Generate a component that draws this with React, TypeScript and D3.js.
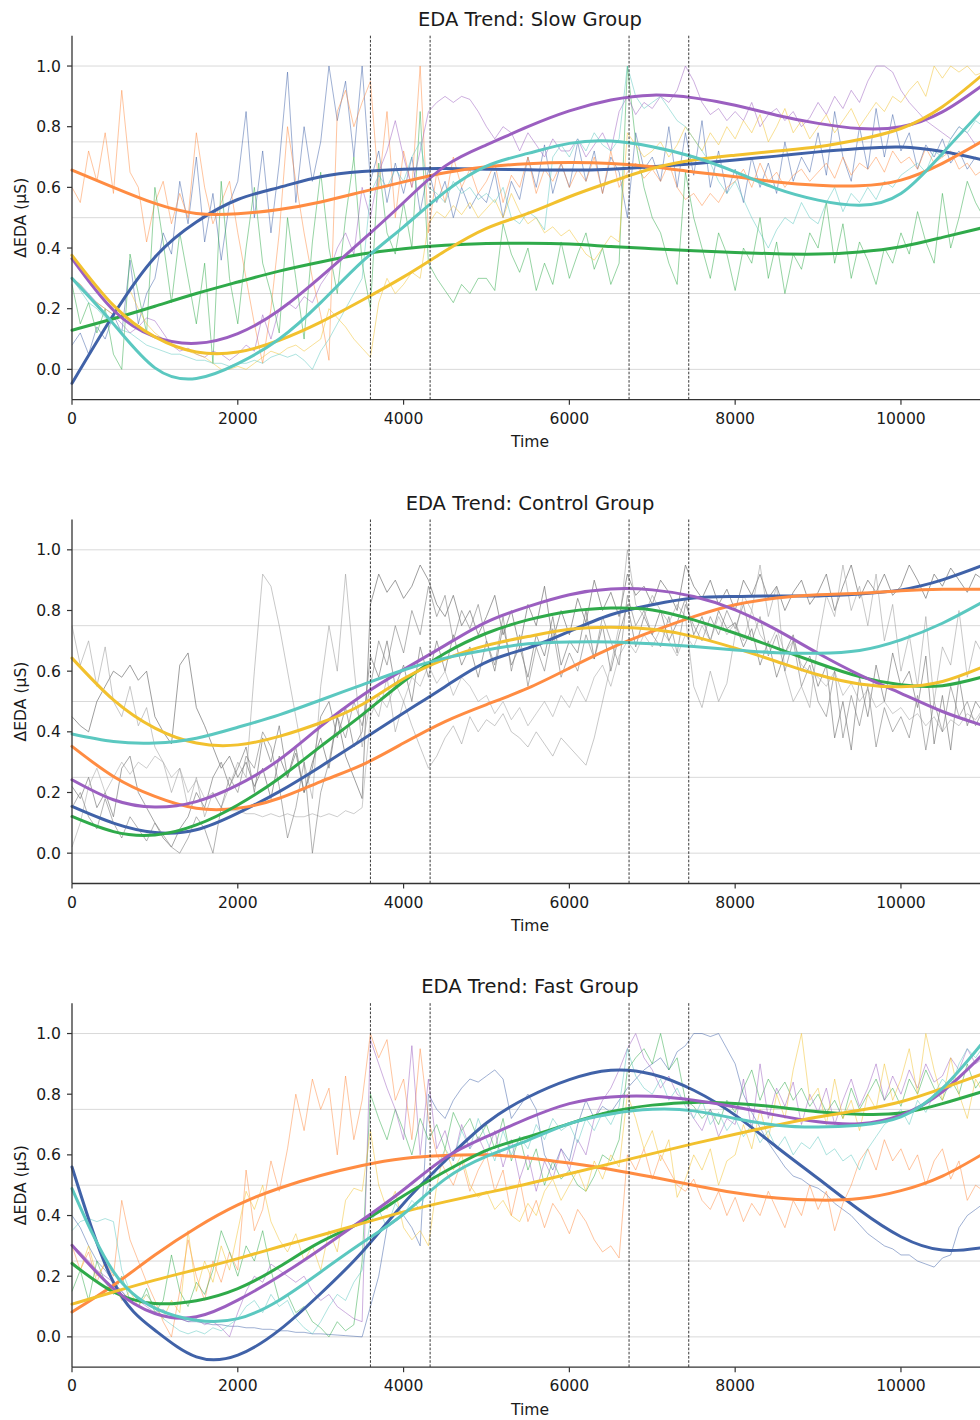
import React from 'react';
import * as d3 from 'd3';

// ---------- layout ----------
const WIDTH = 980;
const HEIGHT = 1420;
const AX_LEFT = 72;
const AX_RIGHT = 988;
const PANEL_H = 364;
const PANEL_TOPS = [35.7, 519.5, 1003.2];
const FONT = '"DejaVu Sans", Verdana, sans-serif';

// ---------- shared axes values ----------
const TIME_MAX = 11050;
const rawTimes = d3.range(0, 11001, 100);
const trendTimes = d3.range(0, 11001, 500);
const phaseMarks = [3600, 4320, 6720, 7440];
const xTicks = [0, 2000, 4000, 6000, 8000, 10000];
const yTicks = [0, 0.2, 0.4, 0.6, 0.8, 1.0];
const gridLevels = [0, 0.25, 0.5, 0.75, 1.0];
const subjectColors = ['#4062A8', '#FF8C42', '#2FAA4A', '#9B5FC0', '#F2C12E', '#5BC8C0'];
const controlGrays = ['#6a6a6a', '#767676', '#9a9a9a', '#a4a4a4', '#808080'];
const controlOpacity = [0.65, 0.65, 0.55, 0.55, 0.6];

// ---------- Slow group: per-subject normalised EDA (100-unit samples) ----------
const slowRawBlue = [
  0.08, 0.12, 0.05, 0.14, 0.1, 0.18, 0.12, 0.36, 0.15, 0.25,
  0.3, 0.45, 0.38, 0.62, 0.48, 0.7, 0.42, 0.58, 0.36, 0.55,
  0.62, 0.85, 0.5, 0.72, 0.45, 0.68, 0.98, 0.55, 0.8, 0.62,
  0.75, 1.0, 0.82, 0.95, 0.7, 1.0, 0.62, 0.72, 0.55, 0.68,
  0.58, 0.7, 0.52, 0.66, 0.55, 0.62, 0.5, 0.6, 0.53, 0.58,
  0.55, 0.65, 0.5, 0.62, 0.56, 0.7, 0.6, 0.74, 0.58, 0.68,
  0.6, 0.75, 0.62, 0.72, 0.58, 0.7, 0.65, 0.5, 0.78, 0.66,
  0.7, 0.62, 0.8, 0.6, 0.78, 0.64, 0.82, 0.6, 0.72, 0.58,
  0.66, 0.55, 0.7, 0.6, 0.68, 0.58, 0.75, 0.62, 0.7, 0.65,
  0.78, 0.64, 0.85, 0.7, 0.62, 0.8, 0.66, 0.86, 0.7, 0.84,
  0.72, 0.78, 0.66, 0.74, 0.7, 0.76, 0.68, 0.72, 0.66, 0.7, 0.68,
];
const slowRawOrange = [
  0.6, 0.55, 0.72, 0.62, 0.78, 0.58, 0.92, 0.65, 0.6, 0.42,
  0.55, 0.62, 0.48, 0.58, 0.5, 0.78, 0.6, 0.48, 0.55, 0.62,
  0.45, 0.3, 0.15, 0.02, 0.2, 0.45, 0.8, 0.62, 0.45, 0.3,
  0.18, 0.03, 0.85, 0.92, 0.8, 0.88, 0.95, 0.6, 0.85, 0.5,
  0.72, 0.6, 1.0, 0.45, 0.65, 0.55, 0.7, 0.6, 0.66, 0.58,
  0.62, 0.68, 0.55, 0.64, 0.6, 0.7, 0.58, 0.66, 0.62, 0.68,
  0.6, 0.66, 0.62, 0.7, 0.58, 0.72, 0.6, 0.65, 0.68, 0.63,
  0.66, 0.62, 0.68, 0.6, 0.56, 0.58, 0.54, 0.58, 0.55, 0.6,
  0.62, 0.66, 0.6, 0.68, 0.62, 0.65, 0.6, 0.64, 0.66, 0.62,
  0.65, 0.68, 0.63, 0.7, 0.64, 0.68, 0.66, 0.7, 0.65, 0.72,
  0.68, 0.7, 0.66, 0.73, 0.68, 0.7, 0.72, 0.66, 0.68, 0.64, 0.66,
];
const slowRawGreen = [
  0.28, 0.15, 0.22, 0.12, 0.2, 0.05, 0.0, 0.38, 0.25, 0.12,
  0.6, 0.42, 0.22, 0.45, 0.3, 0.15, 0.35, 0.02, 0.62, 0.3,
  0.15, 0.4, 0.6, 0.35, 0.25, 0.12, 0.5, 0.3, 0.1, 0.42,
  0.65, 0.4, 0.25, 0.5, 0.7, 0.35, 0.2, 0.68, 0.45, 0.38,
  0.55, 0.4, 0.85, 0.35, 0.3, 0.26, 0.22, 0.28, 0.25, 0.3,
  0.3, 0.26, 0.48, 0.38, 0.32, 0.4, 0.26, 0.35, 0.28, 0.42,
  0.3, 0.38, 0.45, 0.33, 0.4, 0.28, 0.35, 1.0, 0.75, 0.6,
  0.5, 0.45, 0.35, 0.28, 0.65, 0.5, 0.4, 0.3, 0.45, 0.38,
  0.26, 0.4, 0.35, 0.5, 0.3, 0.42, 0.25, 0.38, 0.33, 0.45,
  0.4, 0.55, 0.35, 0.48, 0.3, 0.42, 0.36, 0.28, 0.4, 0.35,
  0.45, 0.38, 0.52, 0.42, 0.35, 0.58, 0.4, 0.5, 0.62, 0.55, 0.5,
];
const slowRawPurple = [
  0.3, 0.28, 0.25, 0.22, 0.2, 0.18, 0.15, 0.12, 0.14, 0.17,
  0.16, 0.12, 0.08, 0.06, 0.07, 0.05, 0.04, 0.06, 0.05, 0.03,
  0.05, 0.08, 0.06, 0.18, 0.1, 0.2, 0.22, 0.2, 0.24, 0.22,
  0.28, 0.32, 0.4, 0.45, 0.38, 0.6, 0.5, 0.65, 0.72, 0.82,
  0.7, 0.6, 0.72, 0.85, 0.88, 0.9, 0.88, 0.9, 0.89, 0.85,
  0.8, 0.76, 0.8, 0.78, 0.72, 0.78, 0.74, 0.7, 0.76, 0.72,
  0.72, 0.76, 0.7, 0.74, 0.78, 0.72, 0.85, 0.9, 0.84, 0.88,
  0.86, 0.9, 0.88, 0.92, 1.0, 0.95, 0.88, 0.84, 0.86, 0.82,
  0.85, 0.82, 0.88, 0.8, 0.84, 0.86, 0.82, 0.85, 0.8, 0.83,
  0.88, 0.84, 0.9, 0.86, 0.92, 0.88, 0.95, 1.0, 1.0, 0.98,
  0.92, 0.88, 0.85, 0.82, 0.8, 0.78, 0.76, 0.8, 0.78, 0.74, 0.76,
];
const slowRawYellow = [
  0.3, 0.28, 0.24, 0.22, 0.2, 0.18, 0.22, 0.26, 0.2, 0.15,
  0.12, 0.1, 0.08, 0.07, 0.06, 0.05, 0.04, 0.02, 0.0, 0.0,
  0.01, 0.0, 0.02, 0.04, 0.06, 0.05, 0.07, 0.08, 0.06, 0.08,
  0.1, 0.2, 0.17, 0.14, 0.1, 0.07, 0.04, 0.22, 0.3, 0.25,
  0.28, 0.32, 0.3, 0.48, 0.52, 0.5, 0.54, 0.51, 0.55, 0.5,
  0.53, 0.56, 0.5, 0.58, 0.52, 0.48, 0.5, 0.45, 0.47, 0.44,
  0.46, 0.42, 0.38, 0.36, 0.4, 0.44, 0.42, 0.78, 0.74, 0.7,
  0.72, 0.75, 0.7, 0.74, 0.8, 0.76, 0.72, 0.78, 0.74, 0.8,
  0.76, 0.82, 0.78, 0.84, 0.75, 0.8, 0.86, 0.78, 0.82, 0.76,
  0.8, 0.84, 0.78, 0.82, 0.86, 0.8, 0.84, 0.88, 0.85, 0.9,
  0.88, 0.92, 0.95, 0.9, 1.0, 0.96, 1.0, 0.98, 1.0, 0.97, 0.98,
];
const slowRawTeal = [
  0.3, 0.26, 0.22, 0.2, 0.17, 0.15, 0.13, 0.12, 0.1, 0.08,
  0.07, 0.06, 0.05, 0.05, 0.04, 0.03, 0.03, 0.02, 0.02, 0.01,
  0.02, 0.02, 0.03, 0.02, 0.04, 0.05, 0.04, 0.05, 0.03, 0.0,
  0.06, 0.1, 0.15, 0.2, 0.25, 0.3, 0.58, 0.64, 0.6, 0.66,
  0.62, 0.7, 0.75, 0.6, 0.58, 0.55, 0.62, 0.58, 0.6, 0.56,
  0.58, 0.55, 0.6, 0.5, 0.48, 0.52, 0.5, 0.46, 0.7, 0.74,
  0.7, 0.76, 0.72, 0.78, 0.74, 0.72, 0.76, 1.0, 0.9, 0.86,
  0.88, 0.9, 0.86, 0.82, 0.8, 0.76, 0.72, 0.68, 0.62, 0.58,
  0.62, 0.56, 0.5, 0.45, 0.4, 0.46, 0.5, 0.48, 0.55, 0.5,
  0.48, 0.55, 0.6, 0.52, 0.58, 0.55, 0.6, 0.56, 0.62, 0.6,
  0.64, 0.66, 0.68, 0.65, 0.72, 0.7, 0.76, 0.8, 0.78, 0.82, 0.8,
];

// ---------- Slow group: fitted trends (500-unit samples) ----------
const slowTrendBlue = [-0.046, 0.18, 0.37, 0.486, 0.56, 0.6, 0.635, 0.652, 0.66, 0.662, 0.66, 0.658, 0.657, 0.66, 0.668, 0.678, 0.69, 0.703, 0.717, 0.728, 0.733, 0.718, 0.69];
const slowTrendOrange = [0.657, 0.6, 0.547, 0.514, 0.513, 0.527, 0.552, 0.585, 0.618, 0.648, 0.668, 0.678, 0.682, 0.679, 0.668, 0.651, 0.635, 0.618, 0.607, 0.605, 0.624, 0.679, 0.755];
const slowTrendGreen = [0.129, 0.167, 0.208, 0.25, 0.288, 0.324, 0.354, 0.38, 0.398, 0.409, 0.415, 0.416, 0.413, 0.405, 0.398, 0.391, 0.385, 0.381, 0.38, 0.387, 0.404, 0.435, 0.468];
const slowTrendPurple = [0.365, 0.195, 0.107, 0.086, 0.118, 0.195, 0.305, 0.425, 0.55, 0.67, 0.74, 0.8, 0.852, 0.888, 0.904, 0.895, 0.871, 0.838, 0.811, 0.794, 0.8, 0.849, 0.94];
const slowTrendYellow = [0.376, 0.211, 0.107, 0.057, 0.057, 0.096, 0.156, 0.228, 0.305, 0.39, 0.465, 0.514, 0.569, 0.618, 0.662, 0.69, 0.706, 0.72, 0.734, 0.758, 0.794, 0.866, 0.975];
const slowTrendTeal = [0.3, 0.15, 0.005, -0.03, 0.019, 0.1, 0.22, 0.355, 0.47, 0.585, 0.67, 0.712, 0.745, 0.753, 0.734, 0.7, 0.651, 0.596, 0.558, 0.541, 0.58, 0.712, 0.86];

// ---------- Control group: per-subject normalised EDA ----------
const controlRawA = [
  0.45, 0.42, 0.4, 0.5, 0.55, 0.6, 0.58, 0.62, 0.57, 0.6,
  0.45, 0.4, 0.36, 0.62, 0.66, 0.48, 0.42, 0.35, 0.28, 0.32,
  0.25, 0.3, 0.22, 0.28, 0.18, 0.32, 0.25, 0.35, 0.2, 0.3,
  0.38, 0.28, 0.45, 0.32, 0.25, 0.18, 0.82, 0.92, 0.86, 0.9,
  0.84, 0.88, 0.95, 0.9, 0.82, 0.78, 0.85, 0.75, 0.8, 0.72,
  0.78, 0.85, 0.72, 0.8, 0.68, 0.82, 0.75, 0.88, 0.7, 0.8,
  0.72, 0.84, 0.76, 0.9, 0.8, 0.86, 0.78, 0.92, 0.85, 0.88,
  0.82, 0.9, 0.86, 0.8, 0.95, 0.88, 0.84, 0.9, 0.82, 0.87,
  0.8, 0.9, 0.85, 0.92, 0.84, 0.88, 0.8, 0.86, 0.9, 0.82,
  0.86, 0.92, 0.8, 0.88, 0.95, 0.84, 0.9, 0.86, 0.92, 0.85,
  0.88, 0.95, 0.9, 0.84, 0.92, 0.88, 0.94, 0.9, 0.86, 0.92, 0.9,
];
const controlRawB = [
  0.22, 0.18, 0.25, 0.15, 0.2, 0.12, 0.28, 0.32, 0.2, 0.15,
  0.1, 0.05, 0.02, 0.08, 0.12, 0.2, 0.15, 0.25, 0.3, 0.22,
  0.28, 0.35, 0.2, 0.38, 0.3, 0.42, 0.25, 0.33, 0.2, 0.28,
  0.45, 0.5, 0.38, 0.48, 0.35, 0.4, 0.65, 0.58, 0.7, 0.55,
  0.62, 0.5, 0.68, 0.58, 0.7, 0.6, 0.72, 0.62, 0.68, 0.58,
  0.7, 0.6, 0.75, 0.62, 0.68, 0.58, 0.72, 0.65, 0.78, 0.62,
  0.7, 0.66, 0.8, 0.64, 0.75, 0.6, 0.72, 0.82, 0.68, 0.78,
  0.72, 0.8, 0.7, 0.76, 0.84, 0.72, 0.78, 0.7, 0.8, 0.74,
  0.76, 0.68, 0.74, 0.62, 0.7, 0.58, 0.66, 0.72, 0.6, 0.65,
  0.55, 0.62, 0.38, 0.5, 0.34, 0.58, 0.45, 0.62, 0.5, 0.66,
  0.55, 0.6, 0.48, 0.65, 0.36, 0.52, 0.34, 0.58, 0.42, 0.5, 0.46,
];
const controlRawC = [
  0.75, 0.62, 0.7, 0.55, 0.68, 0.5, 0.45, 0.55, 0.42, 0.48,
  0.35, 0.3, 0.2, 0.28, 0.15, 0.25, 0.12, 0.2, 0.15, 0.22,
  0.3, 0.25, 0.6, 0.92, 0.88, 0.75, 0.6, 0.45, 0.3, 0.18,
  0.55, 0.75, 0.6, 0.92, 0.62, 0.35, 0.5, 0.45, 0.58, 0.4,
  0.5, 0.42, 0.35, 0.28, 0.32, 0.38, 0.42, 0.36, 0.45, 0.4,
  0.44, 0.42, 0.46, 0.4, 0.38, 0.35, 0.4, 0.36, 0.32, 0.38,
  0.35, 0.32, 0.29, 0.38, 0.5, 0.62, 0.75, 1.0, 0.82, 0.78,
  0.85, 0.8, 0.76, 0.82, 0.78, 0.55, 0.48, 0.6, 0.5, 0.56,
  0.72, 0.85, 0.8, 0.95, 0.78, 0.88, 0.6, 0.5, 0.55, 0.48,
  0.7, 0.85, 0.78, 0.95, 0.8, 0.88, 0.75, 0.92, 0.7, 0.82,
  0.6, 0.72, 0.55, 0.78, 0.5, 0.68, 0.62, 0.8, 0.58, 0.7, 0.65,
];
const controlRawD = [
  0.02, 0.1, 0.22, 0.28, 0.2, 0.25, 0.3, 0.26, 0.3, 0.28,
  0.32, 0.3, 0.25, 0.28, 0.2, 0.24, 0.18, 0.2, 0.15, 0.14,
  0.14, 0.13, 0.13, 0.12, 0.13, 0.12, 0.13, 0.12, 0.12, 0.13,
  0.12, 0.13, 0.12, 0.14, 0.13, 0.15, 0.45, 0.52, 0.48, 0.56,
  0.5, 0.58, 0.55, 0.62, 0.56, 0.6, 0.52, 0.58, 0.55, 0.5,
  0.52, 0.46, 0.5, 0.44, 0.48, 0.42, 0.46, 0.5, 0.45, 0.52,
  0.48, 0.55, 0.5, 0.58, 0.62, 0.55, 0.65, 0.7, 0.66, 0.72,
  0.68, 0.74, 0.7, 0.65, 0.72, 0.68, 0.75, 0.7, 0.78, 0.72,
  0.76, 0.7, 0.8, 0.72, 0.68, 0.74, 0.66, 0.7, 0.62, 0.6,
  0.58, 0.55, 0.6, 0.52, 0.56, 0.5, 0.54, 0.48, 0.5, 0.46,
  0.48, 0.44, 0.46, 0.42, 0.45, 0.4, 0.44, 0.42, 0.46, 0.44, 0.48,
];
const controlRawE = [
  0.15, 0.2, 0.12, 0.08, 0.18, 0.1, 0.05, 0.12, 0.08, 0.04,
  0.1, 0.06, 0.02, 0.0, 0.05, 0.12, 0.08, 0.0, 0.15, 0.25,
  0.2, 0.32, 0.28, 0.4, 0.35, 0.22, 0.05, 0.15, 0.3, 0.0,
  0.2, 0.3, 0.45, 0.38, 0.5, 0.42, 0.55, 0.7, 0.62, 0.75,
  0.66, 0.8, 0.72, 0.88, 0.78, 0.85, 0.7, 0.8, 0.74, 0.82,
  0.7, 0.62, 0.78, 0.6, 0.72, 0.55, 0.68, 0.6, 0.74, 0.58,
  0.66, 0.6, 0.72, 0.64, 0.78, 0.7, 0.62, 0.85, 0.75, 0.8,
  0.72, 0.68, 0.78, 0.66, 0.82, 0.75, 0.7, 0.78, 0.72, 0.8,
  0.74, 0.82, 0.7, 0.78, 0.65, 0.72, 0.6, 0.7, 0.55, 0.62,
  0.5, 0.45, 0.6, 0.38, 0.52, 0.42, 0.55, 0.35, 0.48, 0.4,
  0.45, 0.38, 0.52, 0.34, 0.5, 0.4, 0.55, 0.45, 0.5, 0.42, 0.48,
];

// ---------- Control group: fitted trends ----------
const controlTrendBlue = [0.154, 0.099, 0.068, 0.077, 0.132, 0.203, 0.286, 0.374, 0.462, 0.549, 0.63, 0.676, 0.731, 0.786, 0.819, 0.841, 0.846, 0.848, 0.848, 0.854, 0.868, 0.901, 0.95];
const controlTrendOrange = [0.352, 0.253, 0.187, 0.148, 0.148, 0.181, 0.236, 0.291, 0.363, 0.434, 0.49, 0.544, 0.61, 0.676, 0.731, 0.78, 0.819, 0.841, 0.852, 0.857, 0.865, 0.87, 0.87];
const controlTrendGreen = [0.121, 0.071, 0.06, 0.093, 0.159, 0.247, 0.352, 0.456, 0.566, 0.659, 0.725, 0.769, 0.797, 0.808, 0.802, 0.769, 0.725, 0.676, 0.626, 0.582, 0.555, 0.552, 0.582];
const controlTrendPurple = [0.242, 0.176, 0.152, 0.17, 0.225, 0.308, 0.418, 0.52, 0.605, 0.685, 0.762, 0.813, 0.852, 0.871, 0.868, 0.846, 0.802, 0.736, 0.659, 0.588, 0.527, 0.467, 0.42];
const controlTrendYellow = [0.643, 0.505, 0.412, 0.363, 0.357, 0.385, 0.43, 0.49, 0.575, 0.64, 0.685, 0.714, 0.738, 0.745, 0.738, 0.714, 0.676, 0.632, 0.588, 0.558, 0.549, 0.566, 0.615];
const controlTrendTeal = [0.393, 0.368, 0.363, 0.379, 0.415, 0.456, 0.505, 0.555, 0.604, 0.643, 0.67, 0.69, 0.696, 0.696, 0.69, 0.681, 0.67, 0.661, 0.659, 0.668, 0.703, 0.758, 0.83];

// ---------- Fast group: per-subject normalised EDA ----------
const fastRawBlue = [
  0.4, 0.36, 0.3, 0.25, 0.22, 0.18, 0.15, 0.12, 0.1, 0.09,
  0.08, 0.07, 0.06, 0.06, 0.05, 0.05, 0.045, 0.04, 0.04, 0.035,
  0.035, 0.03, 0.03, 0.025, 0.025, 0.02, 0.02, 0.015, 0.015, 0.01,
  0.01, 0.008, 0.006, 0.004, 0.002, 0.0, 0.1, 0.2, 0.36, 0.38,
  0.4, 0.36, 0.3, 0.8, 0.75, 0.72, 0.78, 0.82, 0.85, 0.84,
  0.86, 0.88, 0.85, 0.72, 0.76, 0.8, 0.75, 0.6, 0.55, 0.62,
  0.58, 0.7, 0.78, 0.72, 0.76, 0.74, 0.78, 0.82, 0.85, 0.88,
  0.9, 0.92, 0.88, 0.94, 0.96, 1.0, 1.0, 0.99, 1.0, 0.95,
  0.9, 0.8, 0.74, 0.69, 0.64, 0.6, 0.56, 0.53, 0.52, 0.5,
  0.49, 0.47, 0.44, 0.42, 0.4, 0.37, 0.34, 0.32, 0.3, 0.29,
  0.27, 0.27, 0.25, 0.24, 0.23, 0.26, 0.27, 0.36, 0.4, 0.42, 0.44,
];
const fastRawOrange = [
  0.3, 0.22, 0.28, 0.18, 0.25, 0.2, 0.45, 0.32, 0.25, 0.18,
  0.12, 0.05, 0.0, 0.15, 0.32, 0.2, 0.12, 0.25, 0.18, 0.28,
  0.22, 0.55, 0.35, 0.42, 0.58, 0.48, 0.62, 0.8, 0.68, 0.85,
  0.75, 0.82, 0.6, 0.86, 0.65, 0.78, 1.0, 0.92, 0.98, 0.78,
  0.85, 0.65, 0.95, 0.72, 0.6, 0.55, 0.5, 0.58, 0.48, 0.55,
  0.6, 0.48, 0.55, 0.4, 0.52, 0.38, 0.45, 0.36, 0.44, 0.4,
  0.34, 0.42, 0.38, 0.32, 0.28, 0.3, 0.26, 0.6, 0.55, 0.62,
  0.52, 0.6, 0.55, 0.5, 0.48, 0.52, 0.45, 0.42, 0.48, 0.4,
  0.46, 0.38, 0.44, 0.4, 0.48, 0.42, 0.36, 0.45, 0.4, 0.5,
  0.42, 0.48, 0.35, 0.44, 0.5, 0.58, 0.62, 0.55, 0.65, 0.58,
  0.62, 0.55, 0.6, 0.5, 0.58, 0.62, 0.52, 0.58, 0.45, 0.5, 0.48,
];
const fastRawGreen = [
  0.15, 0.22, 0.12, 0.25, 0.18, 0.14, 0.2, 0.12, 0.1, 0.16,
  0.08, 0.12, 0.27, 0.15, 0.1, 0.18, 0.14, 0.22, 0.35, 0.28,
  0.2, 0.3, 0.25, 0.35, 0.22, 0.12, 0.14, 0.08, 0.1, 0.05,
  0.03, 0.0, 0.05, 0.02, 0.04, 0.25, 0.8, 0.72, 0.65, 0.75,
  0.68, 0.6, 0.72, 0.65, 0.7, 0.62, 0.74, 0.68, 0.72, 0.65,
  0.7, 0.62, 0.72, 0.58, 0.66, 0.55, 0.62, 0.5, 0.58, 0.52,
  0.55, 0.5, 0.48, 0.53, 0.6, 0.58, 0.65, 0.88, 0.92, 0.95,
  0.9, 1.0, 0.88, 0.92, 0.78, 0.76, 0.72, 0.75, 0.7, 0.78,
  0.74, 0.82, 0.88, 0.78, 0.85, 0.8, 0.84, 0.78, 0.82, 0.76,
  0.8, 0.74, 0.78, 0.72, 0.82, 0.75, 0.8, 0.85, 0.78, 0.82,
  0.76, 0.85, 0.8, 0.88, 0.82, 0.78, 0.85, 0.8, 0.9, 0.82, 0.86,
];
const fastRawPurple = [
  0.3, 0.28, 0.25, 0.22, 0.2, 0.18, 0.15, 0.12, 0.12, 0.1,
  0.08, 0.09, 0.07, 0.06, 0.05, 0.06, 0.04, 0.05, 0.03, 0.0,
  0.08, 0.15, 0.2, 0.18, 0.24, 0.22, 0.2, 0.18, 0.2, 0.15,
  0.12, 0.14, 0.1, 0.08, 0.06, 0.05, 0.98, 0.9, 0.82, 0.75,
  0.65, 0.96, 0.6, 0.85, 0.62, 0.68, 0.58, 0.7, 0.62, 0.66,
  0.6, 0.68, 0.56, 0.65, 0.52, 0.6, 0.48, 0.58, 0.52, 0.62,
  0.55, 0.65, 0.6, 0.72, 0.78, 0.82, 0.88, 0.95, 1.0, 0.92,
  0.88, 0.82, 0.86, 0.8, 0.78, 0.72, 0.68, 0.75, 0.66, 0.72,
  0.7, 0.85, 0.68, 0.9, 0.72, 0.82, 0.76, 0.84, 0.7, 0.8,
  0.74, 0.82, 0.7, 0.78, 0.85, 0.76, 0.82, 0.9, 0.78, 0.86,
  0.8, 0.88, 0.82, 0.9, 0.84, 0.86, 0.92, 0.88, 0.95, 0.9, 0.92,
];
const fastRawYellow = [
  0.25, 0.22, 0.3, 0.2, 0.24, 0.18, 0.12, 0.15, 0.1, 0.14,
  0.1, 0.06, 0.12, 0.08, 0.35, 0.15, 0.25, 0.18, 0.3, 0.22,
  0.35, 0.48, 0.42, 0.5, 0.38, 0.32, 0.28, 0.34, 0.25, 0.3,
  0.22, 0.35, 0.28, 0.45, 0.49, 0.48, 0.68, 0.5, 0.42, 0.48,
  0.36, 0.32, 0.35, 0.3, 0.5, 0.62, 0.55, 0.6, 0.5, 0.46,
  0.48, 0.42, 0.45, 0.4, 0.38, 0.44, 0.4, 0.48, 0.52, 0.45,
  0.5, 0.55, 0.48, 0.58, 0.52, 0.6, 0.56, 0.8, 0.72, 0.62,
  0.68, 0.58, 0.65, 0.46, 0.52, 0.6, 0.55, 0.62, 0.5, 0.58,
  0.6, 0.7, 0.62, 0.75, 0.65, 0.8, 0.72, 0.88, 1.0, 0.78,
  0.82, 0.7, 0.85, 0.72, 0.78, 0.68, 0.8, 0.75, 0.9, 0.78,
  0.85, 0.95, 0.8, 1.0, 0.88, 0.78, 0.92, 0.8, 0.72, 0.85, 0.8,
];
const fastRawTeal = [
  0.35, 0.38, 0.39, 0.38, 0.39, 0.38, 0.22, 0.15, 0.12, 0.14,
  0.1, 0.06, 0.04, 0.02, 0.01, 0.02, 0.01, 0.03, 0.02, 0.04,
  0.06, 0.1, 0.12, 0.08, 0.14, 0.1, 0.12, 0.06, 0.03, 0.01,
  0.05, 0.1, 0.14, 0.12, 0.18, 0.22, 0.38, 0.42, 0.36, 0.44,
  0.4, 0.45, 0.42, 0.5, 0.55, 0.62, 0.58, 0.68, 0.62, 0.72,
  0.65, 0.58, 0.68, 0.6, 0.66, 0.62, 0.7, 0.65, 0.72, 0.68,
  0.7, 0.64, 0.72, 0.68, 0.74, 0.7, 0.76, 0.95, 0.86, 0.82,
  0.8, 0.85, 0.78, 0.82, 0.76, 0.72, 0.78, 0.7, 0.74, 0.68,
  0.72, 0.66, 0.7, 0.64, 0.68, 0.62, 0.66, 0.6, 0.64, 0.62,
  0.66, 0.6, 0.62, 0.58, 0.6, 0.55, 0.62, 0.66, 0.7, 0.72,
  0.75, 0.7, 0.78, 0.74, 0.8, 0.85, 0.82, 0.9, 0.95, 0.92, 0.96,
];

// ---------- Fast group: fitted trends ----------
const fastTrendBlue = [0.56, 0.18, 0.022, -0.066, -0.06, 0.022, 0.143, 0.28, 0.44, 0.58, 0.705, 0.79, 0.848, 0.879, 0.866, 0.813, 0.731, 0.626, 0.522, 0.418, 0.33, 0.286, 0.295];
const fastTrendOrange = [0.082, 0.17, 0.27, 0.36, 0.435, 0.49, 0.532, 0.565, 0.588, 0.598, 0.6, 0.59, 0.573, 0.552, 0.527, 0.5, 0.475, 0.458, 0.451, 0.456, 0.482, 0.53, 0.605];
const fastTrendGreen = [0.242, 0.148, 0.11, 0.119, 0.159, 0.231, 0.313, 0.38, 0.465, 0.545, 0.615, 0.659, 0.703, 0.742, 0.764, 0.773, 0.769, 0.758, 0.742, 0.734, 0.738, 0.769, 0.81];
const fastTrendPurple = [0.302, 0.159, 0.077, 0.066, 0.121, 0.2, 0.29, 0.385, 0.485, 0.59, 0.66, 0.72, 0.769, 0.791, 0.793, 0.78, 0.758, 0.731, 0.709, 0.703, 0.731, 0.808, 0.935];
const fastTrendYellow = [0.108, 0.148, 0.187, 0.222, 0.258, 0.297, 0.335, 0.374, 0.412, 0.445, 0.475, 0.505, 0.538, 0.571, 0.604, 0.637, 0.668, 0.698, 0.725, 0.747, 0.775, 0.819, 0.868];
const fastTrendTeal = [0.489, 0.215, 0.095, 0.055, 0.06, 0.121, 0.214, 0.31, 0.405, 0.52, 0.595, 0.648, 0.703, 0.735, 0.75, 0.745, 0.72, 0.698, 0.692, 0.698, 0.725, 0.819, 0.975];

type RawTrace = { values: number[]; color: string; opacity: number };
type PanelSpec = { title: string; raws: RawTrace[]; trends: number[][] };

const colouredRaws = (series: number[][]): RawTrace[] =>
  series.map((values, i) => ({ values, color: subjectColors[i], opacity: 0.5 }));

const panels: PanelSpec[] = [
  {
    title: 'EDA Trend: Slow Group',
    raws: colouredRaws([slowRawBlue, slowRawOrange, slowRawGreen, slowRawPurple, slowRawYellow, slowRawTeal]),
    trends: [slowTrendBlue, slowTrendOrange, slowTrendGreen, slowTrendPurple, slowTrendYellow, slowTrendTeal],
  },
  {
    title: 'EDA Trend: Control Group',
    raws: [controlRawA, controlRawB, controlRawC, controlRawD, controlRawE].map((values, i) => ({
      values,
      color: controlGrays[i],
      opacity: controlOpacity[i],
    })),
    trends: [controlTrendBlue, controlTrendOrange, controlTrendGreen, controlTrendPurple, controlTrendYellow, controlTrendTeal],
  },
  {
    title: 'EDA Trend: Fast Group',
    raws: colouredRaws([fastRawBlue, fastRawOrange, fastRawGreen, fastRawPurple, fastRawYellow, fastRawTeal]),
    trends: [fastTrendBlue, fastTrendOrange, fastTrendGreen, fastTrendPurple, fastTrendYellow, fastTrendTeal],
  },
];

const TEXT = '#1a1a1a';
const SPINE = '#333333';

function Panel({ spec, top }: { spec: PanelSpec; top: number }) {
  const bottom = top + PANEL_H;
  const x = d3.scaleLinear().domain([0, TIME_MAX]).range([AX_LEFT, AX_RIGHT]);
  const y = d3.scaleLinear().domain([-0.1, 1.1]).range([bottom, top]);

  const rawLine = d3
    .line<number>()
    .x((_, i) => x(rawTimes[i]))
    .y((v) => y(v));
  const trendLine = d3
    .line<number>()
    .x((_, i) => x(trendTimes[i]))
    .y((v) => y(v))
    .curve(d3.curveNatural);

  const midX = (AX_LEFT + AX_RIGHT) / 2;

  return (
    <g>
      {/* grid */}
      {gridLevels.map((g) => (
        <line key={`g${g}`} x1={AX_LEFT} x2={AX_RIGHT} y1={y(g)} y2={y(g)} stroke="#d9d9d9" strokeWidth={1} />
      ))}

      {/* per-subject signals */}
      {spec.raws.map((r, i) => (
        <path
          key={`r${i}`}
          d={rawLine(r.values) || ''}
          fill="none"
          stroke={r.color}
          strokeOpacity={r.opacity}
          strokeWidth={1}
          strokeLinejoin="round"
        />
      ))}

      {/* fitted trends */}
      {spec.trends.map((t, i) => (
        <path
          key={`t${i}`}
          d={trendLine(t) || ''}
          fill="none"
          stroke={subjectColors[i]}
          strokeWidth={3}
          strokeLinecap="round"
        />
      ))}

      {/* phase boundaries */}
      {phaseMarks.map((m) => (
        <line
          key={`m${m}`}
          x1={x(m)}
          x2={x(m)}
          y1={top}
          y2={bottom}
          stroke="#222"
          strokeWidth={0.9}
          strokeDasharray="2.6 1.6"
        />
      ))}

      {/* spines */}
      <line x1={AX_LEFT} x2={AX_LEFT} y1={top} y2={bottom} stroke={SPINE} strokeWidth={1.3} />
      <line x1={AX_LEFT} x2={AX_RIGHT} y1={bottom} y2={bottom} stroke={SPINE} strokeWidth={1.3} />

      {/* y ticks */}
      {yTicks.map((v) => (
        <g key={`y${v}`}>
          <line x1={AX_LEFT - 5} x2={AX_LEFT} y1={y(v)} y2={y(v)} stroke={SPINE} strokeWidth={1.2} />
          <text
            x={AX_LEFT - 11}
            y={y(v)}
            dy="0.36em"
            textAnchor="end"
            fontFamily={FONT}
            fontSize={15.6}
            fill={TEXT}
          >
            {v.toFixed(1)}
          </text>
        </g>
      ))}

      {/* x ticks */}
      {xTicks.map((t) => (
        <g key={`x${t}`}>
          <line x1={x(t)} x2={x(t)} y1={bottom} y2={bottom + 5} stroke={SPINE} strokeWidth={1.2} />
          <text x={x(t)} y={bottom + 24} textAnchor="middle" fontFamily={FONT} fontSize={15.6} fill={TEXT}>
            {t}
          </text>
        </g>
      ))}

      {/* labels */}
      <text x={midX} y={bottom + 47.5} textAnchor="middle" fontFamily={FONT} fontSize={15.6} fill={TEXT}>
        Time
      </text>
      <text
        transform={`translate(25.5, ${(top + bottom) / 2}) rotate(-90)`}
        textAnchor="middle"
        fontFamily={FONT}
        fontSize={15.6}
        fill={TEXT}
      >
        ΔEDA (μS)
      </text>
      <text x={midX} y={top - 9.8} textAnchor="middle" fontFamily={FONT} fontSize={19.5} fill={TEXT}>
        {spec.title}
      </text>
    </g>
  );
}

export default function App() {
  return (
    <svg
      width={WIDTH}
      height={HEIGHT}
      viewBox={`0 0 ${WIDTH} ${HEIGHT}`}
      style={{ position: 'absolute', left: 0, top: 0, background: '#ffffff' }}
    >
      <rect x={0} y={0} width={WIDTH} height={HEIGHT} fill="#ffffff" />
      {panels.map((p, i) => (
        <Panel key={p.title} spec={p} top={PANEL_TOPS[i]} />
      ))}
    </svg>
  );
}
